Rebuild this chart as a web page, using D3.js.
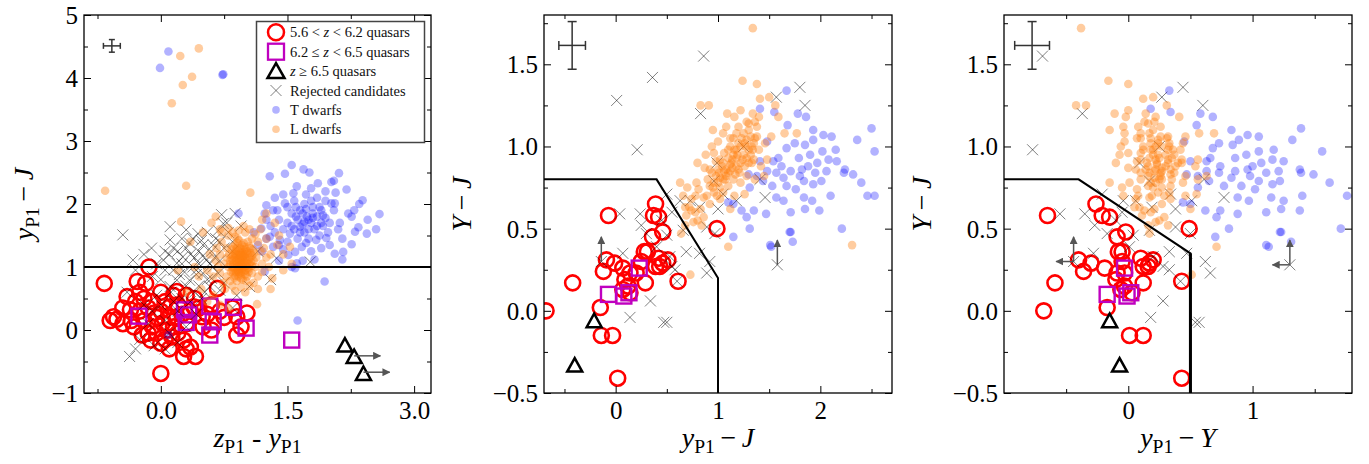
<!DOCTYPE html>
<html>
<head>
<meta charset="utf-8">
<script src="https://cdn.jsdelivr.net/npm/d3@7"></script>
<style>
  body, html { margin:0; padding:0; background:#fff; }
  svg { display:block; font-family:"Liberation Serif", serif; }
</style>
</head>
<body>
<svg id="chart" width="1369" height="464"></svg>
<script>
// ---- panel 1: z_P1 - y_P1 vs y_P1 - J ----
var p1Circles = [[-0.67,0.74],[-0.14,1.00],[-0.56,0.21],[-0.52,0.17],[-0.60,0.15],[-0.40,0.53],[-0.28,0.77],[-0.18,0.74],
  [-0.36,0.32],[-0.32,0.05],[-0.22,-0.08],[-0.12,-0.16],[0.0,-0.21],[0.0,-0.69],[-0.08,0.27],[0.02,0.11],[0.11,0.37],
  [0.19,0.61],[0.19,0.21],[0.13,-0.11],[0.27,-0.42],[0.41,-0.42],[0.35,-0.27],[0.27,-0.16],[0.39,0.37],[0.49,0.21],
  [0.67,0.66],[0.90,-0.08],[0.90,0.21],[1.02,0.27],[-0.3,0.45],[-0.25,0.3],[-0.2,0.5],[-0.15,0.35],[-0.1,0.45],
  [-0.05,0.2],[-0.1,0.05],[0.0,0.3],[0.05,0.45],[0.08,0.0],[0.1,0.2],[0.15,0.05],[0.2,0.4],[0.25,0.25],[0.3,0.1],
  [0.35,0.3],[0.45,0.35],[0.5,0.05],[0.55,0.25],[0.6,0.0],[0.7,0.3],[0.75,0.2],[-0.45,0.35],[-0.35,0.15],[-0.2,0.15],
  [-0.05,-0.05],[0.05,-0.15],[0.2,-0.05],[0.3,-0.3],[0.15,0.55],[0.0,0.6],[-0.25,0.6],[0.4,0.5],[0.6,0.4],[-0.45,0.1],
  [0.1,-0.3],[-0.15,-0.05],[0.85,0.35],[0.95,0.05],[0.3,0.55]];
var p1Squares = [[-0.26,0.22],[0.28,0.32],[0.30,0.12],[0.33,0.24],[0.58,0.38],[0.62,0.13],[0.58,-0.08],[0.86,0.36],
  [1.01,0.03],[1.55,-0.16]];
var p1Triangles = [[2.18,-0.24],[2.29,-0.42],[2.40,-0.69]];
var p1Limits = [[2.29,-0.41],[2.40,-0.67]];
var p1Rejected = [[-0.45,1.51],[-0.33,1.11],[-0.11,1.30],[0.11,1.64],[0.11,1.43],[0.30,1.59],[0.44,1.53],[0.72,1.83],
  [0.88,1.85],[0.74,1.69],[0.34,1.38],[0.50,1.35],[0.54,1.11],[0.26,1.16],[0.19,1.06],[0.38,1.00],[0.62,1.00],
  [0.03,1.11],[0.50,0.90],[0.34,0.79],[0.58,0.69],[0.70,0.63],[1.05,0.69],[0.11,0.69],[0.19,0.79],[0.45,1.25],
  [0.40,1.15],[0.60,1.25],[0.65,1.45],[0.55,1.55],[0.20,1.25],[0.15,1.30],[0.25,1.45],[0.30,1.30],[0.45,1.05],
  [0.50,1.18],[0.58,1.05],[0.64,1.15],[0.68,0.90],[0.60,0.82],[0.42,0.88],[0.28,0.92],[0.22,0.88],[0.30,0.70],
  [0.45,0.70],[0.52,0.60],[0.40,0.60],[0.80,1.55],[0.85,1.40],[0.75,1.30],[0.95,1.65],[-0.20,1.20],[-0.05,1.05],
  [0.05,0.95],[0.10,1.20],[-0.30,0.95],[0.00,0.80],[0.38,1.45],[0.70,1.10],[0.75,0.75],[1.15,1.25],[1.37,1.14],
  [1.77,1.08],[1.30,0.80],[0.90,0.55],[0.85,0.35],[-0.37,-0.42],[-0.30,-0.30],[-0.25,-0.15],[-0.15,0.10],
  [-0.10,0.30],[0.00,0.40],[0.05,0.15],[0.15,0.45],[0.20,0.30],[0.25,0.50],[0.10,-0.05],[0.20,-0.20],[0.30,0.05],
  [0.35,0.45],[0.42,0.25],[-0.20,0.40],[-0.05,0.55],[0.12,0.60],[0.48,0.50],[-0.40,0.60],[0.05,-0.30],[-0.08,-0.25],
  [0.35,1.20],[0.48,1.42],[0.62,1.35],[0.15,0.95],[0.55,0.80],[0.70,1.40],[0.25,1.05],[0.05,1.25],[0.42,0.95],
  [0.68,1.58],[0.78,1.70],[-0.10,0.85],[0.85,1.25]];
var p1TDwarfs = [[1.55,2.62],[1.29,2.44],[1.47,2.48],[1.69,2.55],[1.76,2.50],[2.11,2.49],[2.02,2.35],[2.05,2.37],
  [1.86,2.33],[1.61,2.28],[2.39,2.06],[2.59,1.84],[2.20,2.23],[2.07,2.18],[2.06,2.01],[2.02,2.01],[2.26,1.80],
  [2.22,1.85],[2.29,1.90],[2.34,1.63],[2.30,1.56],[2.44,1.53],[2.26,1.36],[2.06,1.21],[2.16,1.24],[2.15,1.12],
  [1.61,1.06],[1.51,1.19],[1.25,1.98],[1.23,1.85],[1.33,1.90],[1.47,2.01],[1.57,2.17],[1.73,1.80],[1.75,1.75],
  [1.65,1.64],[1.53,1.53],[1.41,1.43],[1.33,1.32],[1.29,1.48],[1.19,1.61],[1.25,1.75],[1.84,1.43],[1.96,1.46],
  [1.67,1.32],[1.59,1.24],[1.60,1.95],[1.70,2.00],[1.80,1.95],[1.90,1.90],[1.85,1.80],[1.78,1.70],[1.68,1.85],
  [1.62,1.75],[1.55,1.85],[1.50,1.70],[1.45,1.60],[1.58,1.60],[1.70,1.55],[1.82,1.60],[1.92,1.65],[1.95,1.78],
  [2.00,1.70],[1.88,1.50],[1.75,1.45],[1.62,1.45],[1.50,1.40],[1.40,1.75],[1.38,1.90],[1.45,2.15],[1.35,2.10],
  [1.72,2.15],[1.85,2.10],[1.95,2.20],[1.78,2.05],[1.68,1.68],[1.80,1.85],[1.72,1.92],[1.90,1.70],[2.10,1.60],
  [2.15,1.45],[2.00,1.35],[1.90,1.30],[1.78,1.25],[1.45,1.28],[1.35,1.55],[1.25,1.45],[1.15,1.35],[1.10,1.55],
  [1.20,1.25],[1.40,1.10],[1.55,1.00],[1.68,1.10],[1.82,1.12],[2.35,2.00],[2.45,1.75],[2.55,1.60],
  [1.65,1.90],[1.75,1.60],[1.85,1.65],[1.60,1.80],[1.70,1.72],[1.80,1.78],[1.92,1.82],[1.55,1.65],[1.65,1.55],
  [1.72,1.38],[1.98,1.55],[2.05,1.90],[1.50,1.95],[1.40,1.35],[1.30,1.65],[1.88,1.95],[1.58,2.05],[1.78,2.25],
  [2.12,1.70],[1.95,2.05],
  [-0.01,4.16],[0.09,4.42],[0.73,4.05],[0.74,4.06],[1.62,0.15],[1.94,0.77],[1.23,0.93],[1.59,0.98],[0.09,-0.08],
  [0.92,1.85]];
var p1LDwarfs = [[0.95,1.10],[0.90,1.05],[1.00,1.15],[0.92,1.20],[0.98,1.00],[0.88,1.15],[1.05,1.05],[0.85,1.00],
  [0.95,0.92],[1.02,1.25],[0.90,1.30],[0.82,1.10],[1.08,1.18],[0.96,1.35],[0.86,0.90],[1.00,0.88],[0.93,1.00],
  [0.97,1.22],[0.89,1.10],[1.04,0.97],[0.91,0.95],[0.99,1.08],[0.87,1.22],[1.06,1.30],[0.84,1.28],[0.94,1.15],
  [1.01,1.02],[0.92,0.85],[1.10,1.10],[0.80,1.00],[0.96,1.28],[0.88,1.35],[1.03,1.40],[0.93,1.42],[1.12,1.00],
  [0.83,0.92],[1.08,0.90],[0.97,0.80],[0.90,0.78],[1.00,0.95],[0.95,1.05],[0.86,1.05],[1.04,1.12],[0.92,1.08],
  [0.98,1.18],[0.89,1.25],[1.02,0.85],[0.94,0.97],[1.06,1.22],[0.99,1.32],[0.85,1.18],[0.91,1.38],[1.09,1.28],
  [0.81,1.20],[1.13,1.15],[0.87,0.83],[0.95,0.88],[1.00,1.20],[0.93,1.25],[0.97,1.12],
  [0.96,1.02],[0.91,1.12],[1.01,1.10],[0.87,0.98],[0.94,1.30],[1.03,1.20],[0.89,0.92],[0.99,0.93],[1.07,1.08],
  [0.84,1.12],[0.92,1.02],[0.97,1.16],[1.05,1.33],[0.90,1.18],[0.95,0.82],[1.01,0.78],[0.86,1.32],[0.93,0.90],
  [1.10,1.22],[0.82,1.04],[0.98,1.38],[1.04,0.92],[0.88,0.86],[0.94,1.22],[1.00,1.28],[0.91,1.45],[1.06,1.15],
  [0.85,0.95],[0.96,0.96],[1.02,1.06],[0.90,1.00],[0.97,1.05],[0.93,1.12],[0.99,1.24],[1.08,1.02],[0.88,1.20],
  [0.95,1.18],[1.03,0.99],[0.86,1.10],[0.92,0.93],
  [0.70,1.20],[0.72,1.40],[0.75,1.05],[0.78,0.85],[0.74,0.75],[0.80,1.50],[0.85,1.55],[0.78,1.30],[0.68,1.00],
  [0.70,0.90],[1.15,1.40],[1.18,1.25],[1.20,1.05],[1.15,0.85],[1.10,0.75],[1.05,0.70],[0.95,0.68],[0.85,0.70],
  [1.22,1.30],[1.25,1.15],[1.20,0.92],[1.12,1.52],[1.00,1.55],[0.92,1.58],[0.80,1.62],[1.05,1.60],[0.65,1.10],
  [0.66,1.30],[0.72,1.55],[0.62,0.85],[0.76,0.65],[1.28,1.00],[1.30,1.20],[1.25,1.45],[1.18,1.60],[0.98,1.65],
  [0.88,1.48],[1.08,1.45],[0.78,1.15],[0.82,0.78],[1.15,0.65],[1.00,0.60],[0.88,0.62],[1.32,0.82],[1.30,0.65],
  [1.14,0.41],[1.38,1.35],[1.45,1.20],[1.40,1.50],[1.53,1.32],[1.06,2.18],[1.20,1.75],[1.35,1.70],
  [0.45,0.85],[0.55,0.95],[0.35,1.40],[0.50,1.55],[0.60,1.70],[0.40,1.00],[0.30,0.60],[0.48,0.65],[0.55,0.45],
  [0.62,0.55],[0.58,1.20],[0.24,1.72],[0.30,2.29],[-0.66,2.21],[0.13,3.60],[0.26,3.89],[0.37,4.02],[0.23,4.35],
  [0.45,4.47],[0.70,0.40],[0.80,0.35],[0.20,0.95],[0.70,1.60],[0.65,1.80],[1.25,1.85],[1.45,0.95],[1.55,1.05]];
var p1Error = [-0.58, 4.51, 0.10, 0.10];
var p1Cut = [[-0.91,1.0],[3.2,1.0]];

// ---- panels 2 and 3: objects as [y_P1 - J, Y - J]; panel 3 plots (y_P1 - J) - (Y - J) = y_P1 - Y ----
var p23Circles = [[-0.07,0.58],[0.39,0.65],[0.37,0.58],[0.42,0.57],[0.46,0.48],[0.36,0.45],[0.31,0.36],[0.28,0.36],
  [0.42,0.32],[0.51,0.31],[0.46,0.29],[-0.09,0.31],[-0.01,0.29],[-0.12,0.24],[0.07,0.26],[0.14,0.23],[0.09,0.19],
  [0.20,0.23],[0.29,0.17],[0.39,0.27],[0.07,0.13],[0.14,0.11],[-0.42,0.17],[0.61,0.18],[-0.68,0.00],[-0.15,0.02],
  [-0.14,-0.15],[-0.03,-0.15],[0.02,-0.41],[0.99,0.50],[0.12,0.15],[0.25,0.30],[0.43,0.27]];
var p23Squares = [[0.23,0.26],[-0.07,0.10],[0.13,0.11],[0.08,0.09]];
var p23Triangles = [[-0.21,-0.06],[-0.40,-0.33]];
var p23Limits = [[-0.14,0.30],[1.58,0.28]];
var p23Rejected = [[0.86,1.55],[0.36,1.42],[0.01,1.28],[0.21,0.98],[0.83,1.20],[1.80,1.36],[1.85,1.25],[1.57,1.30],
  [0.04,0.59],[0.24,0.59],[0.07,0.35],[0.34,0.06],[0.14,-0.04],[0.47,-0.07],[0.50,-0.07],[0.60,0.18],[0.69,0.36],
  [0.66,0.49],[0.63,0.67],[0.50,0.71],[0.89,0.23],[0.92,0.30],[0.82,0.35],[0.97,0.47],[0.89,0.51],[1.00,0.62],
  [1.18,0.67],[1.46,0.69],[1.41,0.80],[1.25,1.00],[0.99,0.90],[1.05,0.71],[0.96,0.79],[0.53,0.33],[0.50,0.46],
  [0.40,0.39],[0.30,0.47],[0.45,0.55],[0.55,0.60],[0.58,0.25],[0.73,0.67],[0.82,0.63],[0.25,0.52],[0.55,0.27],
  [-0.14,0.30],[1.58,0.28]];
var p23TDwarfs = [[1.67,1.34],[1.55,1.21],[1.41,1.23],[1.78,1.20],[1.86,1.18],[1.68,1.13],[1.93,1.10],[2.03,1.07],
  [2.11,1.06],[2.50,1.11],[2.53,0.97],[2.36,1.04],[1.93,1.04],[1.85,1.01],[2.02,0.97],[1.79,0.93],[1.67,0.99],
  [1.59,0.93],[1.54,0.91],[1.48,1.03],[1.41,0.91],[1.48,0.85],[1.57,0.84],[1.64,0.81],[1.71,0.85],[1.82,0.86],
  [1.88,0.88],[1.97,0.90],[2.08,0.92],[2.16,0.91],[2.24,0.86],[2.32,0.83],[2.23,0.84],[2.06,0.85],[1.93,0.77],
  [2.01,0.79],[1.84,0.79],[1.76,0.74],[1.67,0.76],[1.53,0.76],[1.44,0.79],[1.31,0.75],[1.38,0.82],[1.30,0.83],
  [1.57,0.69],[1.64,0.67],[1.84,0.69],[1.92,0.67],[2.10,0.70],[2.46,0.70],[2.53,0.70],[1.99,0.61],[1.85,0.62],
  [1.71,0.60],[1.47,0.59],[1.35,0.61],[1.28,0.57],[1.23,0.61],[1.15,0.65],[1.10,0.66],[1.31,0.50],[1.71,0.48],
  [1.15,0.45],[1.51,0.40],[1.73,0.42],[2.21,0.50],[1.52,0.39],[1.70,0.48],[1.90,0.95],[1.75,1.02],[2.15,0.98],
  [1.62,0.88],[1.80,0.82],[1.95,0.84],[2.40,0.78]];
var p23LDwarfs = [[1.34,1.72],[1.24,1.40],[1.38,1.38],[0.83,1.25],[0.91,1.25],[1.41,1.29],[1.50,1.30],[1.56,1.25],
  [1.09,1.20],[1.16,1.18],[1.34,1.20],[1.59,1.18],[1.65,1.08],[1.77,1.08],[1.05,1.08],[1.20,1.12],[1.28,1.15],
  [1.30,1.10],[1.36,1.05],[1.38,1.12],[1.33,1.00],[1.40,0.98],[1.28,1.04],[1.22,1.00],[1.15,1.05],[1.10,0.98],
  [1.00,1.03],[0.96,0.96],[0.94,1.00],[1.18,0.93],[1.25,0.95],[1.30,0.90],[1.35,0.92],[1.42,0.88],[1.20,0.86],
  [1.12,0.89],[1.05,0.90],[0.98,0.91],[0.92,0.86],[0.87,0.87],[1.15,0.80],[1.08,0.82],[1.02,0.81],[0.96,0.78],
  [0.90,0.80],[1.22,0.78],[1.28,0.82],[1.36,0.80],[1.02,0.75],[0.96,0.72],[1.05,0.72],[1.10,0.76],[0.86,0.69],
  [0.81,0.74],[0.78,0.70],[0.74,0.68],[0.83,0.62],[0.89,0.70],[0.78,0.60],[0.72,0.63],[0.69,0.58],[0.76,0.54],
  [0.80,0.55],[0.68,0.52],[0.64,0.47],[0.63,0.78],[0.79,0.78],[0.68,0.63],[0.74,0.61],[0.73,0.22],[1.10,0.39],
  [0.84,0.52],[2.31,0.40],[1.12,1.00],[1.18,0.98],[1.25,1.08],[1.32,0.95],[1.26,0.88],[1.14,0.92],[1.06,0.96],
  [1.00,0.86],[0.94,0.84],[1.08,1.12],[1.22,1.22],[1.46,1.02],[1.48,0.92],[1.40,1.18],[1.16,0.70],[0.88,0.95],
  [0.80,0.90],[0.70,0.75],[0.66,0.70],[1.45,0.82],[1.52,1.06],[0.95,1.10],[1.02,0.68],[0.92,0.65],[1.12,0.62],
  [0.86,0.57],[1.26,0.71],
  [1.12,0.85],[1.18,0.88],[1.24,0.92],[1.30,0.98],[1.35,1.02],[1.08,0.86],[1.15,0.95],[1.20,1.02],[1.27,1.00],
  [1.32,1.06],[1.05,0.80],[1.10,0.84],[1.17,0.83],[1.22,0.90],[1.28,0.93],[1.00,0.78],[1.06,0.85],[1.13,0.90],
  [1.19,0.95],[1.26,1.02],[1.34,0.98],[1.38,1.06],[0.98,0.82],[1.04,0.88],[1.10,0.93],[1.16,0.98],[1.23,1.05],
  [1.30,1.14],[1.36,1.15],[0.95,0.75],[1.01,0.84],[1.07,0.80],[1.14,0.87],[1.21,0.84],[1.33,0.90],[1.12,1.05],
  [1.18,1.08],[1.02,0.92],[0.92,0.76],[0.99,0.70]];
var p2Error = [-0.425, 1.615, 0.13, 0.145];
var p3Error = [-0.774, 1.615, 0.14, 0.145];
var p2Cut = [[-0.7,0.8],[0.4,0.8],[1.0,0.2],[1.0,-0.5]];
var p3Cut = [[-1.0,0.8],[-0.4,0.8],[0.5,0.35],[0.5,-0.5]];

// ticks
var p1XTicks = [0, 1.5, 3.0], p1XMinor = [-0.75, 0.75, 2.25];
var p1YTicks = [-1, 0, 1, 2, 3, 4, 5], p1YMinor = [-0.5, 0.5, 1.5, 2.5, 3.5, 4.5];
var p2XTicks = [0, 1, 2], p2XMinor = [-0.5, 0.5, 1.5, 2.5];
var p3XTicks = [0, 1], p3XMinor = [-0.5, 0.5, 1.5];
var p23YTicks = [-0.5, 0, 0.5, 1.0, 1.5], p23YMinor = [-0.25, 0.25, 0.75, 1.25, 1.75];

var legendLabels = [["5.6 < ", "z", " < 6.2 quasars"], ["6.2 \u2264 ", "z", " < 6.5 quasars"],
  ["", "z", " \u2265 6.5 quasars"], ["Rejected candidates"], ["T dwarfs"], ["L dwarfs"]];

var svg = d3.select("#chart");
var defs = svg.append("defs");
defs.append("marker").attr("id", "arrowhead").attr("viewBox", "0 0 10 10")
  .attr("refX", 9).attr("refY", 5).attr("markerWidth", 8).attr("markerHeight", 8)
  .attr("markerUnits", "userSpaceOnUse").attr("orient", "auto")
  .append("path").attr("d", "M0,0L10,5L0,10Z").attr("fill", "#555");

var RED = "#ff0000", MAG = "#bf00bf", BLUE = "#0000ff", ORANGE = "#ff7f0e";
var crossPath = "M-5.5,-5.5L5.5,5.5M-5.5,5.5L5.5,-5.5";
var triPath = "M0,-7L-7.5,6.5L7.5,6.5Z";

function mathText(sel, parts, size) {
  // parts: [text, kind] kind: i italic, r roman, s subscript, after = back to baseline
  parts.forEach(function(p) {
    var t = sel.append("tspan").text(p[0]);
    if (p[1] === "i") t.attr("font-style", "italic");
    if (p[1] === "s") t.attr("font-size", size * 0.7).attr("dy", size * 0.22);
    if (p[1] === "after") t.attr("dy", -size * 0.22);
  });
}

function drawPanel(cfg) {
  var x = d3.scaleLinear().domain(cfg.xDomain).range([cfg.left, cfg.right]);
  var y = d3.scaleLinear().domain(cfg.yDomain).range([cfg.bottom, cfg.top]);
  var fx = cfg.fx || function(d) { return d[0]; };
  var px = function(d) { return x(fx(d)); }, py = function(d) { return y(d[1]); };

  var g = svg.append("g");
  var clipId = "clip" + cfg.id;
  defs.append("clipPath").attr("id", clipId).append("rect")
    .attr("x", cfg.left).attr("y", cfg.top)
    .attr("width", cfg.right - cfg.left).attr("height", cfg.bottom - cfg.top);
  var plot = g.append("g").attr("clip-path", "url(#" + clipId + ")");

  plot.append("g").selectAll("circle").data(cfg.circles).join("circle")
    .attr("cx", px).attr("cy", py).attr("r", 7.5)
    .attr("fill", "none").attr("stroke", RED).attr("stroke-width", 2.6);
  plot.append("g").selectAll("rect").data(cfg.squares).join("rect")
    .attr("x", function(d) { return px(d) - 7.5; }).attr("y", function(d) { return py(d) - 7.5; })
    .attr("width", 15).attr("height", 15)
    .attr("fill", "none").attr("stroke", MAG).attr("stroke-width", 2.4);
  plot.append("g").selectAll("path").data(cfg.triangles).join("path")
    .attr("d", triPath).attr("transform", function(d) { return "translate(" + px(d) + "," + py(d) + ")"; })
    .attr("fill", "none").attr("stroke", "#000").attr("stroke-width", 2.5);
  plot.append("g").selectAll("path").data(cfg.rejected).join("path")
    .attr("d", crossPath).attr("transform", function(d) { return "translate(" + px(d) + "," + py(d) + ")"; })
    .attr("fill", "none").attr("stroke", "#000").attr("stroke-opacity", 0.5).attr("stroke-width", 1);
  plot.append("g").selectAll("circle").data(cfg.tdwarfs).join("circle")
    .attr("cx", px).attr("cy", py).attr("r", 4.3).attr("fill", BLUE).attr("fill-opacity", 0.3);
  plot.append("g").selectAll("circle").data(cfg.ldwarfs).join("circle")
    .attr("cx", px).attr("cy", py).attr("r", 4.3).attr("fill", ORANGE).attr("fill-opacity", 0.4);

  // selection cut
  var line = d3.line().x(function(d) { return x(d[0]); }).y(function(d) { return y(d[1]); });
  plot.append("path").attr("d", line(cfg.cut)).attr("fill", "none")
    .attr("stroke", "#000").attr("stroke-width", 2);
  if (cfg.cutThick) {
    plot.append("path").attr("d", line(cfg.cut.slice(-2))).attr("fill", "none")
      .attr("stroke", "#000").attr("stroke-width", 3);
  }

  // limit arrows
  cfg.limits.forEach(function(d) {
    cfg.arrows.forEach(function(a) {
      var x0 = fx(d), y0 = d[1];
      plot.append("line")
        .attr("x1", x(x0)).attr("y1", y(y0)).attr("x2", x(x0 + a[0])).attr("y2", y(y0 + a[1]))
        .attr("stroke", "#555").attr("stroke-width", 1.5).attr("marker-end", "url(#arrowhead)");
    });
  });

  // typical error bar
  var e = cfg.err, cap = cfg.cap;
  var eg = plot.append("g").attr("stroke", "#333").attr("stroke-width", 1.5);
  eg.append("line").attr("x1", x(e[0] - e[2])).attr("x2", x(e[0] + e[2])).attr("y1", y(e[1])).attr("y2", y(e[1]));
  eg.append("line").attr("x1", x(e[0])).attr("x2", x(e[0])).attr("y1", y(e[1] - e[3])).attr("y2", y(e[1] + e[3]));
  [e[0] - e[2], e[0] + e[2]].forEach(function(v) {
    eg.append("line").attr("x1", x(v)).attr("x2", x(v)).attr("y1", y(e[1]) - cap).attr("y2", y(e[1]) + cap);
  });
  [e[1] - e[3], e[1] + e[3]].forEach(function(v) {
    eg.append("line").attr("x1", x(e[0]) - cap).attr("x2", x(e[0]) + cap).attr("y1", y(v)).attr("y2", y(v));
  });

  // frame
  g.append("rect").attr("x", cfg.left).attr("y", cfg.top)
    .attr("width", cfg.right - cfg.left).attr("height", cfg.bottom - cfg.top)
    .attr("fill", "none").attr("stroke", "#000").attr("stroke-width", 1.3);

  // axes, ticks inward on four sides
  function styleAxis(s) {
    s.attr("font-family", null).attr("font-size", 25).attr("color", "#000");
    s.select(".domain").remove();
  }
  g.append("g").attr("transform", "translate(0," + cfg.bottom + ")")
    .call(d3.axisBottom(x).tickValues(cfg.xTicks).tickFormat(d3.format(cfg.xFmt))
      .tickSizeInner(-7).tickSizeOuter(0).tickPadding(8))
    .call(styleAxis)
    .call(function(s) { s.selectAll("text").attr("dy", null).attr("y", 26); });
  g.append("g").attr("transform", "translate(0," + cfg.bottom + ")")
    .call(d3.axisBottom(x).tickValues(cfg.xMinor).tickFormat("").tickSizeInner(-4).tickSizeOuter(0)).call(styleAxis);
  g.append("g").attr("transform", "translate(0," + cfg.top + ")")
    .call(d3.axisTop(x).tickValues(cfg.xTicks).tickFormat("").tickSizeInner(-7).tickSizeOuter(0)).call(styleAxis);
  g.append("g").attr("transform", "translate(0," + cfg.top + ")")
    .call(d3.axisTop(x).tickValues(cfg.xMinor).tickFormat("").tickSizeInner(-4).tickSizeOuter(0)).call(styleAxis);
  g.append("g").attr("transform", "translate(" + cfg.left + ",0)")
    .call(d3.axisLeft(y).tickValues(cfg.yTicks).tickFormat(d3.format(cfg.yFmt))
      .tickSizeInner(-7).tickSizeOuter(0).tickPadding(6))
    .call(styleAxis)
    .call(function(s) { s.selectAll("text").attr("dy", "0.34em"); });
  g.append("g").attr("transform", "translate(" + cfg.left + ",0)")
    .call(d3.axisLeft(y).tickValues(cfg.yMinor).tickFormat("").tickSizeInner(-4).tickSizeOuter(0)).call(styleAxis);
  g.append("g").attr("transform", "translate(" + cfg.right + ",0)")
    .call(d3.axisRight(y).tickValues(cfg.yTicks).tickFormat("").tickSizeInner(-7).tickSizeOuter(0)).call(styleAxis);
  g.append("g").attr("transform", "translate(" + cfg.right + ",0)")
    .call(d3.axisRight(y).tickValues(cfg.yMinor).tickFormat("").tickSizeInner(-4).tickSizeOuter(0)).call(styleAxis);

  // axis titles
  var xl = g.append("text").attr("x", (cfg.left + cfg.right) / 2).attr("y", 447)
    .attr("text-anchor", "middle").attr("font-size", 28);
  mathText(xl, cfg.xLabel, 28);
  var yl = g.append("text").attr("transform", "translate(" + cfg.yLabelX + "," + (cfg.top + cfg.bottom) / 2 + ") rotate(-90)")
    .attr("text-anchor", "middle").attr("font-size", 28);
  mathText(yl, cfg.yLabel, 28);
}

var labYJ = [["y", "i"], ["P1", "s"], ["\u2009\u2212\u2009", "after"], ["J", "i"]];

drawPanel({
  id: 1, left: 84, right: 431, top: 15, bottom: 393,
  xDomain: [-0.91, 3.2], yDomain: [-1, 5],
  xTicks: p1XTicks, xMinor: p1XMinor, yTicks: p1YTicks, yMinor: p1YMinor, xFmt: ".1f", yFmt: "d",
  circles: p1Circles, squares: p1Squares, triangles: p1Triangles, rejected: p1Rejected,
  tdwarfs: p1TDwarfs, ldwarfs: p1LDwarfs, cut: p1Cut,
  limits: p1Limits, arrows: [[0.31, 0]], err: p1Error, cap: 3,
  xLabel: [["z", "i"], ["P1", "s"], [" - ", "after"], ["y", "i"], ["P1", "s"]],
  yLabel: labYJ, yLabelX: 33
});
drawPanel({
  id: 2, left: 544, right: 892, top: 15, bottom: 393,
  xDomain: [-0.7, 2.7], yDomain: [-0.5, 1.8],
  xTicks: p2XTicks, xMinor: p2XMinor, yTicks: p23YTicks, yMinor: p23YMinor, xFmt: "d", yFmt: ".1f",
  circles: p23Circles, squares: p23Squares, triangles: p23Triangles, rejected: p23Rejected,
  tdwarfs: p23TDwarfs, ldwarfs: p23LDwarfs, cut: p2Cut,
  limits: p23Limits, arrows: [[0, 0.15]], err: p2Error, cap: 4.5,
  xLabel: labYJ,
  yLabel: [["Y", "i"], ["\u2009\u2212\u2009", "r"], ["J", "i"]], yLabelX: 471
});
drawPanel({
  id: 3, left: 1004, right: 1352, top: 15, bottom: 393,
  xDomain: [-1.0, 1.8], yDomain: [-0.5, 1.8],
  fx: function(d) { return d[0] - d[1]; },
  xTicks: p3XTicks, xMinor: p3XMinor, yTicks: p23YTicks, yMinor: p23YMinor, xFmt: "d", yFmt: ".1f",
  circles: p23Circles, squares: p23Squares, triangles: p23Triangles, rejected: p23Rejected,
  tdwarfs: p23TDwarfs, ldwarfs: p23LDwarfs, cut: p3Cut, cutThick: true,
  limits: p23Limits, arrows: [[0, 0.15], [-0.14, 0]], err: p3Error, cap: 4.5,
  xLabel: [["y", "i"], ["P1", "s"], ["\u2009\u2212\u2009", "after"], ["Y", "i"]],
  yLabel: [["Y", "i"], ["\u2009\u2212\u2009", "r"], ["J", "i"]], yLabelX: 931
});

// legend (panel 1)
var lg = svg.append("g");
lg.append("rect").attr("x", 256.5).attr("y", 21.5).attr("width", 168).attr("height", 121)
  .attr("fill", "#fff").attr("stroke", "#444").attr("stroke-width", 1.5);
var rowY = d3.scalePoint().domain(d3.range(legendLabels.length)).range([32.3, 129.3]);
var mx = 276;
lg.append("circle").attr("cx", mx).attr("cy", rowY(0)).attr("r", 8)
  .attr("fill", "none").attr("stroke", RED).attr("stroke-width", 2.5);
lg.append("rect").attr("x", mx - 8).attr("y", rowY(1) - 8).attr("width", 16).attr("height", 16)
  .attr("fill", "none").attr("stroke", MAG).attr("stroke-width", 2.3);
lg.append("path").attr("d", "M0,-8L-8.5,7L8.5,7Z").attr("transform", "translate(" + mx + "," + rowY(2) + ")")
  .attr("fill", "none").attr("stroke", "#000").attr("stroke-width", 2.5);
lg.append("path").attr("d", crossPath).attr("transform", "translate(" + mx + "," + rowY(3) + ")")
  .attr("stroke", "#000").attr("stroke-opacity", 0.5).attr("stroke-width", 1);
lg.append("circle").attr("cx", mx).attr("cy", rowY(4)).attr("r", 3.8).attr("fill", BLUE).attr("fill-opacity", 0.3);
lg.append("circle").attr("cx", mx).attr("cy", rowY(5)).attr("r", 3.8).attr("fill", ORANGE).attr("fill-opacity", 0.4);
legendLabels.forEach(function(parts, i) {
  var t = lg.append("text").attr("x", 290).attr("y", rowY(i) + 5).attr("font-size", 14.5).attr("fill", "#111");
  parts.forEach(function(p, j) {
    var s = t.append("tspan").text(p);
    if (parts.length === 3 && j === 1) s.attr("font-style", "italic");
  });
});
</script>
</body>
</html>
